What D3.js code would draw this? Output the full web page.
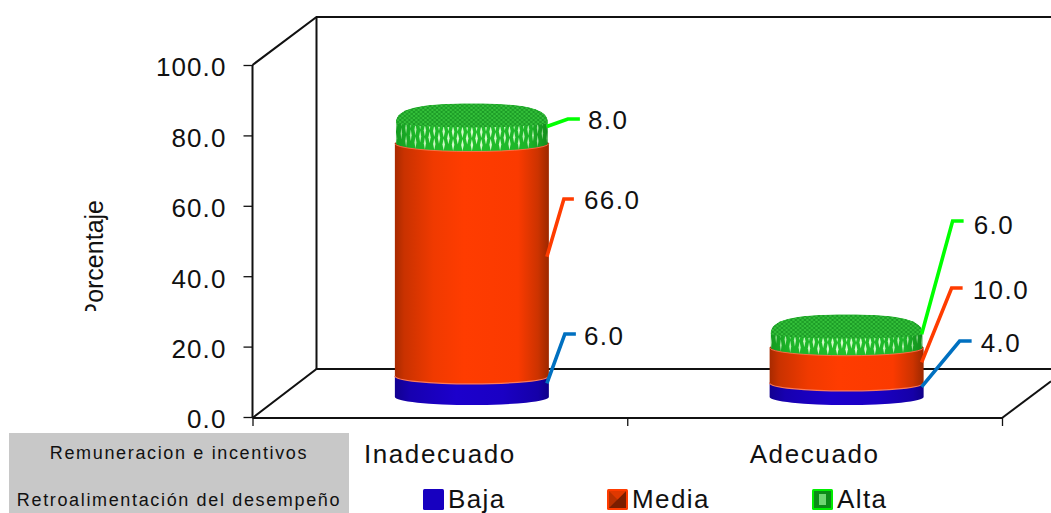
<!DOCTYPE html>
<html>
<head>
<meta charset="utf-8">
<script src="https://cdn.jsdelivr.net/npm/d3@7/dist/d3.min.js"></script>
<style>
html,body{margin:0;padding:0;background:#fff;overflow:hidden}
svg{display:block}
text{font-family:"Liberation Sans",Arial,sans-serif;fill:#111}
</style>
</head>
<body>
<svg id="chart" width="1051" height="513"></svg>
<script>
// Data
const categories = ["Inadecuado", "Adecuado"];
const seriesNames = ["Baja", "Media", "Alta"];
const baja = [6, 4];
const media = [66, 10];
const alta = [8, 6];
const valueTicks = [0, 20, 40, 60, 80, 100];
const tableRows = ["Remuneracion e incentivos", "Retroalimentación del desempeño"];
const seriesValues = [baja, media, alta];

// Label placement per category, per series
const leaderElbows = [
  [{dx: 18, y: 334, run: 11, gap: 8, dy: 2}, {dx: 17, y: 199, run: 10, gap: 10, dy: 1}, {dx: 21, y: 119, run: 12, gap: 8, dy: 1}],
  [{dx: 38, y: 341, run: 12, gap: 9, dy: 2}, {dx: 30, y: 288, run: 11, gap: 10, dy: 2}, {dx: 31, y: 221, run: 11, gap: 10, dy: 4}]
];

const svg = d3.select("#chart");
const margin = {left: 252.5, right: 1002, top: 65, bottom: 417};
const depth = {x: 64, y: 48};

const y = d3.scaleLinear().domain([0, 100]).range([margin.bottom, margin.top]);
const x = d3.scaleBand().domain(categories).range([margin.left, margin.right]);
const xEdges = d3.scaleLinear().domain([0, 2]).range([margin.left, margin.right]);

// Gradients and fills
const defs = svg.append("defs");
function sideGradient(id, stops) {
  const g = defs.append("linearGradient").attr("id", id).attr("x1", 0).attr("x2", 1).attr("y1", 0).attr("y2", 0);
  stops.forEach(([o, c, a]) => g.append("stop").attr("offset", o).attr("stop-color", c).attr("stop-opacity", a === undefined ? 1 : a));
}
sideGradient("gBaja", [[0, "#120090"], [0.1, "#1700b0"], [0.4, "#1c00cc"], [0.7, "#1a00c4"], [0.93, "#1500a8"], [1, "#100088"]]);
sideGradient("gMedia", [[0, "#a82a00"], [0.06, "#c93200"], [0.25, "#f03a00"], [0.45, "#ff3c00"], [0.8, "#fb3a00"], [0.93, "#cc3300"], [1, "#9c2800"]]);
sideGradient("gCap", [[0, "#149a20"], [0.12, "#1cb428"], [0.5, "#22c02c"], [0.88, "#1cb428"], [1, "#128c1c"]]);

// Fine cross-hatch on the top face of the caps
const fine = defs.append("pattern").attr("id", "fine").attr("patternUnits", "userSpaceOnUse")
  .attr("width", 4.6).attr("height", 4);
fine.append("rect").attr("width", 4.6).attr("height", 4).attr("fill", "#34c03a");
fine.append("path").attr("d", "M0,0L4.6,4M4.6,0L0,4").attr("stroke", "#128e1e").attr("stroke-width", 0.8);

// Back wall and floor
const frame = svg.append("g").attr("fill", "none").attr("stroke", "#111").attr("stroke-width", 2);
const wall = {x: margin.left + depth.x, topY: y(100) - depth.y, floorY: y(0) - depth.y};
frame.append("path").attr("d", d3.line()([
  [margin.left, y(100)], [wall.x, wall.topY], [1051, wall.topY]
]));
frame.append("line").attr("x1", wall.x).attr("x2", wall.x).attr("y1", wall.topY).attr("y2", wall.floorY);
frame.append("path").attr("d", d3.line()([
  [margin.left, y(0) + 1], [wall.x, wall.floorY], [1051, wall.floorY]
]));
frame.append("path").attr("d", d3.line()([
  [margin.right, y(0) + 1], [1051, y(0) + 1 - (1051 - margin.right) * depth.y / depth.x]
]));

// Axes
const yAxis = d3.axisLeft(y).tickValues(valueTicks).tickFormat(d3.format(".1f")).tickSize(9).tickPadding(17);
const yG = svg.append("g").attr("transform", `translate(${margin.left},0)`).call(yAxis);
yG.select(".domain").attr("stroke", "#111").attr("stroke-width", 2).attr("d", `M0,${y(100)}V${y(0)}`);
yG.selectAll(".tick line").attr("stroke", "#111").attr("stroke-width", 1.3);
yG.selectAll(".tick text").attr("font-size", 26).attr("letter-spacing", 1.1).attr("dy", "0.42em")
  .style("font-family", '"Liberation Sans",Arial,sans-serif').attr("fill", "#111");

const xAxis = d3.axisBottom(xEdges).tickValues([0, 1, 2]).tickFormat("").tickSize(8);
const xG = svg.append("g").attr("transform", `translate(0,${y(0) + 1})`).call(xAxis);
xG.select(".domain").attr("stroke", "#111").attr("stroke-width", 2).attr("d", `M${margin.left},0H${margin.right}`);
xG.selectAll(".tick line").attr("stroke", "#111").attr("stroke-width", 1.3);

svg.selectAll(".cat").data(categories).join("text").attr("class", "cat")
  .attr("x", d => x(d) + x.bandwidth() / 2).attr("y", 463)
  .attr("text-anchor", "middle").attr("font-size", 26).attr("letter-spacing", 1.6).text(d => d);

// Axis title, cut off at the lower end of its box
defs.append("clipPath").attr("id", "titleClip").append("rect").attr("x", 70).attr("y", 190).attr("width", 50).attr("height", 121);
svg.append("g").attr("clip-path", "url(#titleClip)").append("text")
  .attr("transform", "translate(103,200) rotate(-90)").attr("text-anchor", "end")
  .attr("font-size", 25).text("Porcentaje");

// Stacked cylinders
const rx = 77, ry = 8, capRy = 12;
const lift = 20; // cylinders stand partway across the floor depth
const cx = d => x(d) + x.bandwidth() / 2 + depth.x / 2;
const py = v => y(v) - lift;

function drumPath(c, top, bottom) {
  return `M${c - rx},${top}A${rx},${ry} 0 0 1 ${c + rx},${top}V${bottom}A${rx},${ry} 0 0 1 ${c - rx},${bottom}Z`;
}
// Rounded dome outline shared by the whole cap and its top face
function domeCurve(c, top, r) {
  return `M${c - r},${top + 7}` +
    `C${c - r},${top - 7} ${c - r * 0.7},${top - capRy} ${c},${top - capRy}` +
    `C${c + r * 0.7},${top - capRy} ${c + r},${top - 7} ${c + r},${top + 7}`;
}
function capPath(c, top, bottom, r) {
  return `${domeCurve(c, top, r)}V${bottom}A${r},${ry} 0 0 1 ${c - r},${bottom}Z`;
}
function facePath(c, top, r) {
  return `${domeCurve(c, top, r)}A${r},5 0 0 1 ${c - r},${top + 7}Z`;
}

const bars = svg.selectAll(".cyl").data(categories).join("g").attr("class", "cyl");
bars.each(function (cat, i) {
  const g = d3.select(this), c = cx(cat);
  const stack = d3.cumsum(seriesValues.map(s => s[i]));
  const low = k => (k === 0 ? 0 : stack[k - 1]);

  g.append("path").attr("d", drumPath(c, py(stack[0]), py(0))).attr("fill", "url(#gBaja)");
  g.append("path").attr("d", drumPath(c, py(stack[1]), py(low(1)))).attr("fill", "url(#gMedia)");
  g.append("path")
    .attr("d", `M${c - rx},${py(low(1))}A${rx},${ry} 0 0 0 ${c + rx},${py(low(1))}`)
    .attr("fill", "none").attr("stroke", "#ff7a55").attr("stroke-width", 1.2);

  const capTop = py(stack[2]), capBottom = py(low(2));
  const r = rx - 1;
  const capD = capPath(c, capTop, capBottom, r);
  const clipId = `capClip${i}`;
  defs.append("clipPath").attr("id", clipId).append("path").attr("d", capD);
  const capG = g.append("g").attr("clip-path", `url(#${clipId})`);
  capG.append("path").attr("d", capD).attr("fill", "url(#gCap)");

  // Knurled side: rows of slim lozenges bending with the front of the cylinder
  const spacing = 4.7;
  d3.range(-Math.floor(r / spacing), Math.floor(r / spacing) + 1).forEach(n => {
    const px = c + n * spacing;
    const t = (px - c) / r;
    const curve = Math.sqrt(Math.max(0, 1 - t * t));
    const w = 0.4 + 0.9 * curve;
    const rowStart = Math.abs(n) % 2 === 0 ? 6.5 : 13;
    [rowStart, rowStart + 13].forEach(off => {
      const ly = capBottom + curve * ry - off;
      capG.append("path")
        .attr("d", `M${px},${ly - 6}L${px + w},${ly}L${px},${ly + 6}L${px - w},${ly}Z`)
        .attr("fill", "#e0ffd6").attr("opacity", 0.45 + 0.5 * curve);
    });
  });
  capG.append("path").attr("d", facePath(c, capTop, r)).attr("fill", "url(#fine)");

  g.append("path")
    .attr("d", `M${c - rx},${capBottom}A${rx},${ry} 0 0 0 ${c + rx},${capBottom}`)
    .attr("fill", "none").attr("stroke", "#ff7a55").attr("stroke-width", 0.8);
});

// Value labels with leaders
const leaderColors = ["#0070c0", "#ff3c00", "#00ff00"];
categories.forEach((cat, i) => {
  const stack = d3.cumsum(seriesValues.map(s => s[i]));
  const edge = cx(cat) + rx - 2;
  seriesValues.forEach((s, k) => {
    const mid = stack[k] - s[i] / 2;
    const e = leaderElbows[i][k];
    const startY = py(mid) - 3;
    svg.append("path")
      .attr("d", d3.line()([[edge, startY], [edge + e.dx, e.y], [edge + e.dx + e.run, e.y]]))
      .attr("fill", "none").attr("stroke", leaderColors[k]).attr("stroke-width", 3.6);
    svg.append("text")
      .attr("x", edge + e.dx + e.run + e.gap).attr("y", e.y + e.dy + 9)
      .attr("font-size", 26).attr("letter-spacing", 1.5)
      .text(d3.format(".1f")(s[i]));
  });
});

// Side table under the axis
svg.append("rect").attr("x", 9).attr("y", 433).attr("width", 340).attr("height", 80).attr("fill", "#c8c8c8");
svg.selectAll(".row").data(tableRows).join("text").attr("class", "row")
  .attr("x", 179).attr("y", (d, i) => 459 + i * 47)
  .attr("text-anchor", "middle").attr("font-size", 18).attr("letter-spacing", 1.65).text(d => d);

// Legend
const legendX = d3.scaleOrdinal().domain(seriesNames).range([423, 607, 812]);
const legend = svg.selectAll(".key").data(seriesNames).join("g").attr("class", "key")
  .attr("transform", d => `translate(${legendX(d)},489)`);
const sw = 21;
legend.each(function (name, i) {
  const g = d3.select(this);
  if (i === 0) {
    g.append("rect").attr("width", sw).attr("height", sw).attr("rx", 1.5).attr("fill", "#1700c0");
  } else if (i === 1) {
    g.append("rect").attr("width", sw).attr("height", sw).attr("rx", 1.5).attr("fill", "#ff3c00");
    g.append("rect").attr("x", 2).attr("y", 2).attr("width", sw - 4).attr("height", sw - 4).attr("fill", "#b83000");
    g.append("path").attr("d", `M2,${sw - 2}L${sw - 2},2V${sw - 2}Z`).attr("fill", "#7a1e00");
    g.append("path").attr("d", `M2,2H${sw - 2}L${sw / 2},${sw / 2}Z`).attr("fill", "#e03800");
  } else {
    g.append("rect").attr("width", sw).attr("height", sw).attr("rx", 1.5).attr("fill", "#00ee00");
    g.append("rect").attr("x", 2).attr("y", 2).attr("width", sw - 4).attr("height", sw - 4).attr("fill", "#0c8a18");
    g.append("rect").attr("x", 7).attr("y", 5).attr("width", sw - 14).attr("height", sw - 10).attr("fill", "#6fd672");
  }
  g.append("text").attr("x", sw + 4).attr("y", 18.5).attr("font-size", 26).attr("letter-spacing", 1.4).text(name);
});
</script>
</body>
</html>
